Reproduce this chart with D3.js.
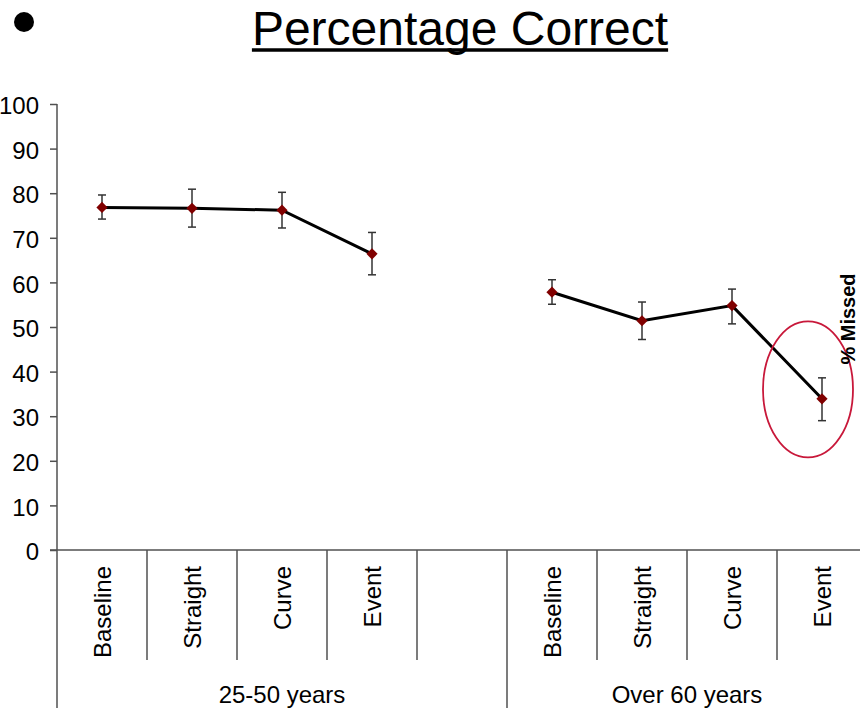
<!DOCTYPE html>
<html>
<head>
<meta charset="utf-8">
<script src="https://cdn.jsdelivr.net/npm/d3@7"></script>
<style>
  html, body { margin: 0; padding: 0; background: #fff; overflow: hidden; }
  svg { display: block; font-family: Arial, "Liberation Sans", sans-serif; }
</style>
</head>
<body>
<svg id="chart" width="860" height="708"></svg>
<script>
// ---- data ----
const titleText = "Percentage Correct";
const groups = ["25-50 years", "Over 60 years"];
const conditions = ["Baseline", "Straight", "Curve", "Event"];
const groupSlots = [5, 4]; // group 1 has a trailing empty slot
const means = [[76.8, 76.6, 76.2, 66.4], [57.8, 51.4, 54.8, 33.9]];
const upper = [[79.6, 80.9, 80.2, 71.2], [60.6, 55.6, 58.5, 38.6]];
const lower = [[74.2, 72.4, 72.2, 61.7], [55.1, 47.2, 50.7, 29.0]];
const yTicks = [0, 10, 20, 30, 40, 50, 60, 70, 80, 90, 100];
const sideLabel = "% Missed";
const highlight = { group: 1, condition: "Event" };

// ---- layout ----
const svg = d3.select("#chart");
const left = 57, plotTop = 104, plotBottom = 550, right = 867;
const catLineEnd = 660, groupLineEnd = 708;
const axisColor = "#505050";

// slots
const slots = [];
groupSlots.forEach((n, g) => {
  for (let i = 0; i < n; i++) {
    slots.push({ key: g + "-" + i, group: g, label: conditions[i] || "", first: i === 0 });
  }
});

const x = d3.scaleBand().domain(slots.map(s => s.key)).range([left, right]).padding(0);
const y = d3.scaleLinear().domain([0, 100]).range([plotBottom, plotTop]);

// ---- title ----
svg.append("circle").attr("cx", 24).attr("cy", 22).attr("r", 10).attr("fill", "#000");
const title = svg.append("text")
  .attr("x", 460).attr("y", 44.5)
  .attr("text-anchor", "middle")
  .attr("font-size", 48)
  .attr("fill", "#000")
  .text(titleText);
const tw = title.node().getComputedTextLength();
svg.append("line")
  .attr("x1", 460 - tw / 2).attr("x2", 460 + tw / 2)
  .attr("y1", 50).attr("y2", 50)
  .attr("stroke", "#000").attr("stroke-width", 3.5);

// ---- y axis ----
const yAxis = d3.axisLeft(y).tickValues(yTicks).tickSize(7).tickPadding(11);
const yg = svg.append("g").attr("transform", `translate(${left},0)`).call(yAxis);
yg.select(".domain").remove();
yg.selectAll(".tick line").attr("stroke", axisColor).attr("stroke-width", 1.5);
yg.selectAll(".tick text").attr("font-size", 24).attr("fill", "#000")
  .attr("font-family", "Arial, 'Liberation Sans', sans-serif").attr("dy", "0.4em");
// vertical axis line (continues down as group divider)
svg.append("line").attr("x1", left).attr("x2", left)
  .attr("y1", y(100)).attr("y2", groupLineEnd)
  .attr("stroke", axisColor).attr("stroke-width", 1.5);

// ---- x axis ----
svg.append("line").attr("x1", left - 7).attr("x2", right)
  .attr("y1", y(0)).attr("y2", y(0))
  .attr("stroke", axisColor).attr("stroke-width", 1.5);

// slot boundary lines
svg.append("g").selectAll("line")
  .data(slots.filter((s, i) => i > 0))
  .join("line")
  .attr("x1", d => x(d.key)).attr("x2", d => x(d.key))
  .attr("y1", y(0)).attr("y2", d => d.first ? groupLineEnd : catLineEnd)
  .attr("stroke", axisColor).attr("stroke-width", 1.5);

// category labels
svg.append("g").selectAll("text")
  .data(slots.filter(s => s.label))
  .join("text")
  .attr("transform", d => `translate(${x(d.key) + x.bandwidth() / 2},566) rotate(-90)`)
  .attr("text-anchor", "end")
  .attr("dy", "0.36em")
  .attr("font-size", 24)
  .attr("fill", "#000")
  .text(d => d.label);

// group labels
svg.append("g").selectAll("text")
  .data(groups)
  .join("text")
  .attr("x", (d, g) => {
    const gs = slots.filter(s => s.group === g);
    return (x(gs[0].key) + x(gs[gs.length - 1].key) + x.bandwidth()) / 2;
  })
  .attr("y", 703)
  .attr("text-anchor", "middle")
  .attr("font-size", 24)
  .attr("fill", "#000")
  .text(d => d);

// ---- series ----
const cx = (g, i) => x(g + "-" + i) + x.bandwidth() / 2;
const line = d3.line().x(d => d.x).y(d => d.y);

groups.forEach((gName, g) => {
  const pts = conditions.map((c, i) => ({
    x: cx(g, i), y: y(means[g][i]), hi: y(upper[g][i]), lo: y(lower[g][i])
  }));
  svg.append("path").datum(pts)
    .attr("d", line)
    .attr("fill", "none").attr("stroke", "#000").attr("stroke-width", 3);

  const eb = svg.append("g").attr("stroke", "#333").attr("stroke-width", 1.5);
  eb.selectAll("line.v").data(pts).join("line").attr("class", "v")
    .attr("x1", d => d.x).attr("x2", d => d.x).attr("y1", d => d.hi).attr("y2", d => d.lo);
  eb.selectAll("line.t").data(pts).join("line").attr("class", "t")
    .attr("x1", d => d.x - 4).attr("x2", d => d.x + 4).attr("y1", d => d.hi).attr("y2", d => d.hi);
  eb.selectAll("line.b").data(pts).join("line").attr("class", "b")
    .attr("x1", d => d.x - 4).attr("x2", d => d.x + 4).attr("y1", d => d.lo).attr("y2", d => d.lo);

  svg.append("g").selectAll("path").data(pts).join("path")
    .attr("d", d3.symbol().type(d3.symbolDiamond2).size(80))
    .attr("transform", d => `translate(${d.x},${d.y})`)
    .attr("fill", "#800000");
});

// ---- highlight ellipse ----
const hi = conditions.indexOf(highlight.condition);
svg.append("ellipse")
  .attr("cx", cx(highlight.group, hi) - 14)
  .attr("cy", y(36))
  .attr("rx", 45).attr("ry", 68)
  .attr("fill", "none").attr("stroke", "#c8183a").attr("stroke-width", 1.8);

// ---- side label at right edge ----
svg.append("text")
  .attr("transform", "translate(855,319) rotate(-90)")
  .attr("text-anchor", "middle")
  .attr("font-size", 20).attr("font-weight", "bold")
  .attr("fill", "#000")
  .text(sideLabel);
</script>
</body>
</html>
